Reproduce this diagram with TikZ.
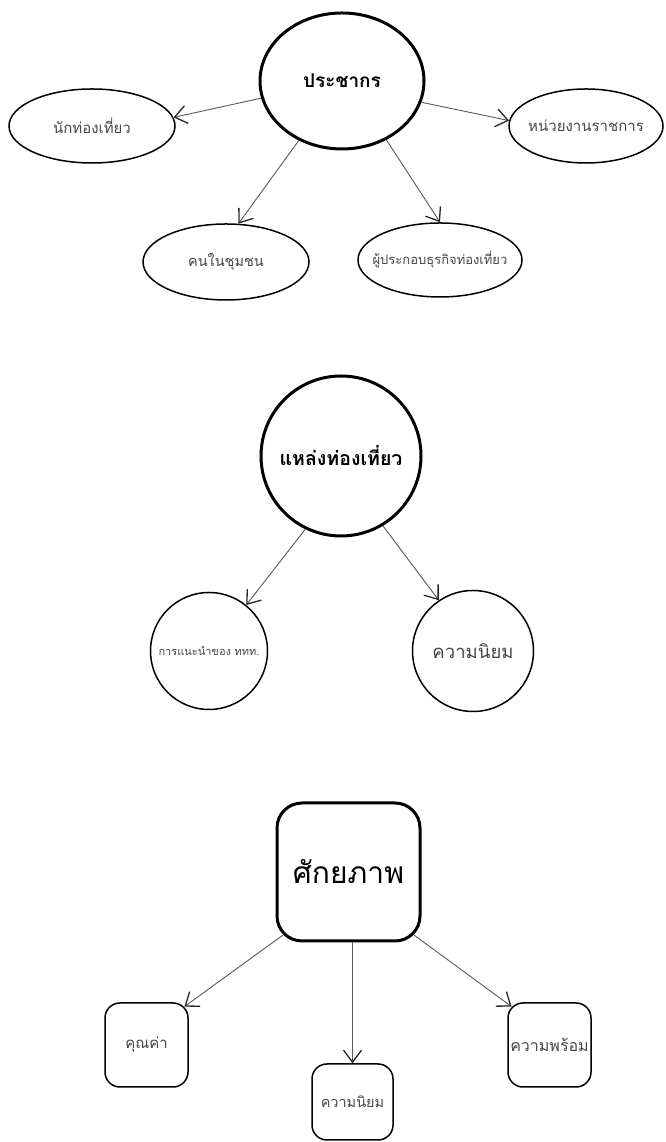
\documentclass[tikz,border=0pt]{standalone}
\usepackage{fontspec}
\newfontfamily\thai[Script=Thai]{Loma}
\usetikzlibrary{arrows.meta,shapes.geometric,backgrounds}
\begin{document}
\begin{tikzpicture}[x=1pt,y=1pt,
  mainshape/.style={draw=black,line width=3pt,inner sep=0pt,fill=white,text=black},
  subshape/.style={draw=black,line width=1.5pt,inner sep=0pt,fill=white,text=black!72},
  conn/.style={draw=black!65,line width=0.9pt,-{Straight Barb[length=12pt,width=18pt,line width=1.3pt,black!85]}},
]
\useasboundingbox (0,0) rectangle (665,1142);
% ---------- top group ----------
\node[mainshape,ellipse,minimum width=164pt,minimum height=136pt,font=\thai\bfseries\fontsize{19}{22}\selectfont] (c) at (342,1061) {\makebox[0pt]{ประชากร}};
\node[subshape,ellipse,minimum width=166pt,minimum height=74pt,font=\thai\fontsize{15}{17}\selectfont] (e1) at (92,1016) {\makebox[0pt]{นักท่องเที่ยว}};
\node[subshape,ellipse,minimum width=154pt,minimum height=74pt,font=\thai\fontsize{15}{17}\selectfont] (e2) at (586,1016) {\makebox[0pt]{หน่วยงานราชการ}};
\node[subshape,ellipse,minimum width=166pt,minimum height=76pt,font=\thai\fontsize{14.5}{17}\selectfont] (e3) at (226,880) {\makebox[0pt]{คนในชุมชน}};
\node[subshape,ellipse,minimum width=164pt,minimum height=74pt,font=\thai\fontsize{13}{15}\selectfont] (e4) at (440,882) {\makebox[0pt]{ผู้ประกอบธุรกิจท่องเที่ยว}};
\draw[conn] (c.192) -- (e1.6);
\draw[conn] (c.-15) -- (e2.176);
\draw[conn] (c.234) -- (e3.72);
\draw[conn] (c.307) -- (e4.north);
% ---------- middle group ----------
\node[mainshape,circle,minimum size=160pt,font=\thai\bfseries\fontsize{19.5}{22}\selectfont] (c2) at (341,686) {\makebox[0pt]{แหล่งท่องเที่ยว}};
\node[subshape,circle,minimum size=117pt,font=\thai\fontsize{11}{13}\selectfont] (a) at (209,491) {\makebox[0pt]{การแนะนำของ ททท.}};
\node[subshape,circle,minimum size=121pt,font=\thai\fontsize{18.5}{21}\selectfont] (b) at (473,491) {\makebox[0pt]{ความนิยม}};
\draw[conn] (c2.244) -- (a.51);
\draw[conn] (c2.301) -- (b.124);
% ---------- bottom group ----------
\node[mainshape,rectangle,rounded corners=25pt,minimum width=143pt,minimum height=138pt,font=\thai\fontsize{30}{34}\selectfont] (P) at (348.5,270) {\makebox[0pt]{ศักยภาพ}};
\node[subshape,rectangle,rounded corners=15pt,minimum width=83pt,minimum height=84pt,font=\thai\fontsize{15}{17}\selectfont] (K) at (146.5,97) {\makebox[0pt]{คุณค่า}};
\node[subshape,rectangle,rounded corners=15pt,minimum width=81pt,minimum height=76pt,font=\thai\fontsize{14.5}{17}\selectfont] (Q) at (352.5,40) {\makebox[0pt]{ความนิยม}};
\node[subshape,rectangle,rounded corners=15pt,minimum width=83pt,minimum height=84pt,font=\thai\fontsize{16}{18}\selectfont] (R) at (549.5,97) {\makebox[0pt]{ความพร้อม}};
\draw[conn] ([shift={(7.3,7.3)}]P.south west) -- ([shift={(-4.4,-4.4)}]K.north east);
\draw[conn] (P.south -| Q.north) -- (Q.north);
\draw[conn] ([shift={(-7.3,7.3)}]P.south east) -- ([shift={(4.4,-4.4)}]R.north west);
\end{tikzpicture}
\end{document}
